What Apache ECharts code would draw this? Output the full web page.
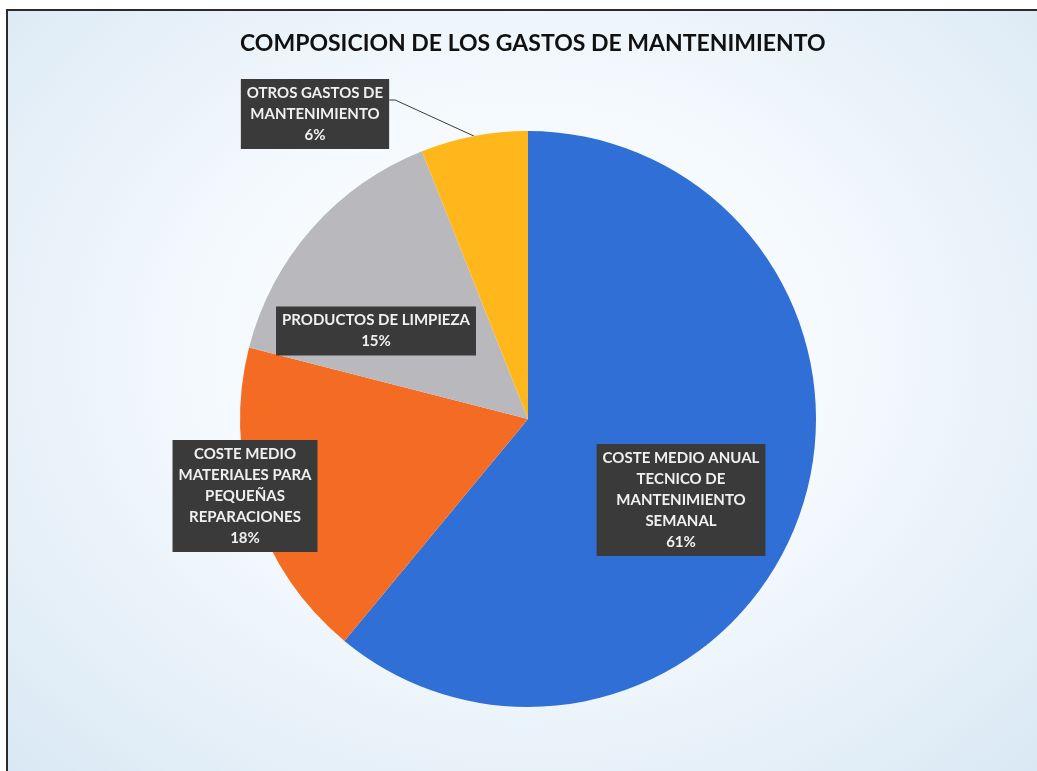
<!DOCTYPE html>
<html>
<head>
<meta charset="utf-8">
<script src="https://cdn.jsdelivr.net/npm/echarts@6/dist/echarts.min.js"></script>
<style>
  html, body { margin: 0; padding: 0; background: #fff; }
  .frame {
    position: absolute; left: 6px; top: 9px; width: 1031px; height: 762px;
    border-top: 2px solid #2b2b2b; border-left: 2px solid #2b2b2b;
    background: radial-gradient(ellipse at 50% 45%, #ffffff 0%, #f4f9fd 45%, #d9e8f4 100%);
  }
  #main { position: absolute; left: 0; top: 0; width: 1037px; height: 771px; }
</style>
</head>
<body>
<div class="frame"></div>
<div id="main"></div>
<script>
const categories = [
  'COSTE MEDIO ANUAL\nTECNICO DE\nMANTENIMIENTO\nSEMANAL',
  'COSTE MEDIO\nMATERIALES PARA\nPEQUEÑAS\nREPARACIONES',
  'PRODUCTOS DE LIMPIEZA',
  'OTROS GASTOS DE\nMANTENIMIENTO'
]
const percents = [61, 18, 15, 6]
const colors = ['#2f6fd6', '#f46b23', '#b9b9bd', '#ffb71b']

// where each label box sits (centre, px)
const labelCenters = [[681, 500], [245, 496], [376, 331], [315, 114]]

const chart = echarts.init(document.getElementById('main'))

chart.setOption({
  title: {
    text: 'COMPOSICION DE LOS GASTOS DE MANTENIMIENTO',
    left: 235,
    top: 27,
    textStyle: {
      fontFamily: 'Lato',
      fontWeight: 'bold',
      fontSize: 23,
      color: '#111'
    }
  },
  series: [
    {
      type: 'pie',
      center: [528, 419],
      radius: 288,
      startAngle: 90,
      clockwise: true,
      animation: false,
      silent: true,
      itemStyle: { borderWidth: 0 },
      label: {
        show: true,
        position: 'inside',
        formatter: (p) => p.name + '\n' + p.value + '%',
        fontFamily: 'Lato',
        fontWeight: 'bold',
        fontSize: 15,
        lineHeight: 21,
        color: '#f0f0f0',
        align: 'center',
        backgroundColor: '#3a3a3a',
        padding: [4, 6, 3, 6]
      },
      labelLine: {
        show: true,
        length: 30,
        length2: 5,
        lineStyle: { color: '#3a3a3a', width: 1 }
      },
      labelLayout: (params) => {
        const c = labelCenters[params.dataIndex]
        const out = { x: c[0], y: c[1], align: 'center', verticalAlign: 'middle' }
        if (params.labelLinePoints) {
          const w = params.labelRect.width
          const right = c[0] + w / 2
          const yy = c[1] - 14
          out.labelLinePoints = [params.labelLinePoints[0], [right + 6, yy], [right, yy]]
        }
        return out
      },
      data: categories.map((name, i) => ({
        name: name,
        value: percents[i],
        itemStyle: { color: colors[i] },
        label: i === 3 ? { position: 'outside' } : undefined
      }))
    }
  ]
})
</script>
</body>
</html>
